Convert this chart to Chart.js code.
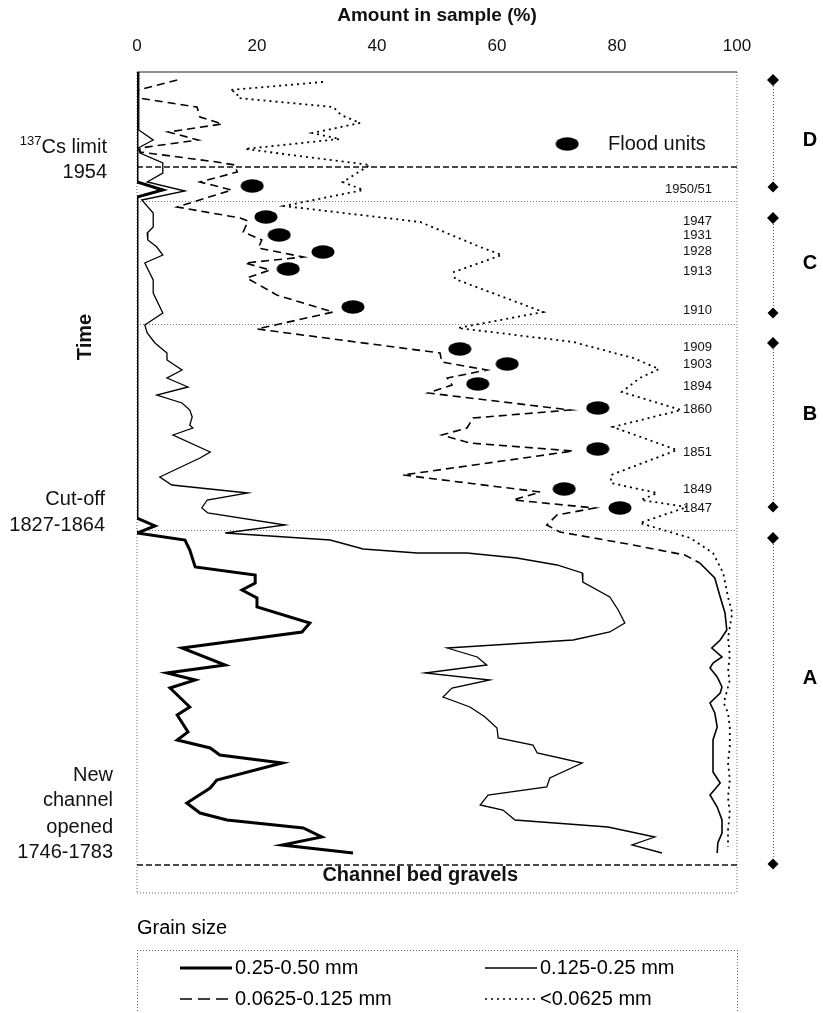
<!DOCTYPE html>
<html>
<head>
<meta charset="utf-8">
<script src="https://cdn.jsdelivr.net/npm/chart.js@4.4.1/dist/chart.umd.min.js"></script>
<style>
  html, body { margin: 0; padding: 0; background: #fff; }
  #wrap { width: 823px; height: 1013px; position: relative; }
</style>
</head>
<body>
<div id="wrap"><canvas id="ctx-grain"></canvas></div>
<script>
// cumulative amount in sample (%) against depth down the core (0 = top of core)
const coarsePct = [0, 0, 4.3, 0, 0, 3.0, 0, 8.0, 8.8, 9.7, 19.7, 19.7, 17.5, 20.0, 20.0, 28.8, 27.5, 7.5, 14.7, 5.0,
  9.7, 5.5, 8.8, 6.7, 8.5, 6.7, 12.2, 13.8, 24.2, 13.3, 12.2, 8.3, 10.5, 15.0, 27.7, 30.8, 24.2, 36.0];
const coarseDepth = [0, 27.5, 29.5, 31.25, 111.5, 113.5, 115.25, 117, 119.5, 123.75, 125.75, 127.75, 129.5, 131.5, 133.75, 137.75, 140, 144, 148.25, 150.25,
  152, 154, 158.75, 160.75, 165, 167, 169, 170.75, 172.75, 177, 179, 182.75, 185.25, 187, 189, 191.25, 193.25, 195.25];

const mediumPct = [0.3, 0.3, 2.7, 0.2, 0.5, 4.3, 4.3, 1.7, 8.0, 0.8, 2.7, 2.7, 1.7, 1.8, 3.3, 4.3, 1.3, 2.7, 2.7, 4.3,
  1.3, 1.7, 3.0, 5.0, 5.0, 7.5, 5.0, 8.5, 3.3, 7.5, 8.8, 9.2, 8.8, 9.3, 6.0, 12.2, 10.5, 3.8, 5.8, 18.5,
  11.7, 10.8, 11.8, 24.7, 14.7, 32.2, 37.7, 46.7, 55.0, 63.3, 70.0, 74.2, 74.3, 78.8, 80.2, 81.3, 78.8, 72.7, 51.7, 56.7,
  58.3, 48.0, 58.8, 52.5, 51.0, 55.5, 58.0, 60.0, 60.2, 66.0, 66.7, 74.2, 68.8, 68.3, 58.5, 57.2, 61.0, 63.0, 78.5, 86.3,
  82.5, 87.5];
const mediumDepth = [0, 14.5, 17, 19, 20.25, 22.75, 25.25, 27.5, 29.75, 32, 35.25, 38.75, 40.25, 42, 43.75, 45.75, 47.75, 52, 55.25, 60.25,
  63.25, 65.25, 67.75, 70.25, 72, 74.5, 76.5, 78.75, 80.75, 82.75, 84.5, 86.25, 88.25, 89, 90.75, 95, 96.5, 101.25, 103.25, 105.25,
  107, 109, 110.25, 113.25, 115.25, 117, 119.25, 120.25, 120.25, 121.5, 123.25, 125.25, 127.5, 131.25, 134.5, 137.75, 140, 142, 144, 146.25,
  148.25, 150.25, 152, 154, 156.25, 158.75, 161.25, 164, 166.5, 168.25, 170.25, 172.75, 176.5, 178.75, 180.75, 183.25, 184.5, 187, 188.75, 191.25,
  193.25, 195.25];

const finePct = [6.7, 0.2, 0.2, 10.0, 10.5, 14.2, 5.2, 10.2, 0.5, 0.5, 13.3, 16.3, 16.7, 10.5, 15.8, 6.7, 17.2, 18.5, 17.7, 20.8,
  20.2, 27.7, 18.0, 22.2, 18.3, 23.3, 32.7, 20.0, 50.5, 50.8, 58.3, 51.7, 52.5, 48.5, 72.2, 56.0, 55.0, 50.8, 55.5, 72.7,
  44.3, 67.2, 62.7, 76.3, 70.0, 68.3, 70.5, 82.7, 91.3, 93.8, 96.3, 97.2, 98.0, 98.3, 97.2, 95.8, 97.5, 96.0, 95.5, 96.7,
  97.5, 97.2, 95.5, 96.3, 96.7, 96.0, 96.0, 96.0, 97.2, 95.5, 96.7, 97.5, 97.5, 96.8, 96.7];
const fineDepth = [2, 4.5, 6.5, 8.75, 11.25, 13, 15, 17, 19, 20, 22.5, 23.25, 25, 27.5, 29.5, 33.75, 36.5, 37.25, 40, 42,
  44, 46.25, 47.75, 49.5, 51.5, 55.75, 60, 64.25, 70.25, 72.5, 74.5, 76.5, 78.25, 80.25, 84.5, 86.5, 89, 90.75, 92.75, 94.75,
  100.75, 105, 107, 109, 110.75, 113.25, 115, 118.25, 120.75, 122.75, 126.5, 131.25, 135.25, 139.5, 142, 144, 146.25, 147.75, 149, 151.25,
  153.75, 155.25, 157.75, 160.25, 163.75, 167, 172, 175, 177.75, 180.75, 183.75, 187, 190.25, 192.75, 195.25];

const siltPct = [31.0, 15.5, 16.7, 16.8, 32.7, 34.0, 37.2, 29.2, 33.8, 18.0, 38.8, 34.3, 37.7, 24.5, 47.2, 57.2, 60.8, 52.8, 53.0, 67.7,
  53.5, 72.7, 82.7, 87.0, 83.8, 80.8, 90.7, 79.3, 90.0, 79.0, 79.0, 86.7, 84.0, 91.7, 83.8, 92.2, 96.0, 97.7, 98.5, 99.2,
  98.5, 98.8, 98.5, 98.8, 97.8, 98.5, 98.8, 98.8, 98.5, 98.8, 98.5, 98.8, 98.5, 98.5];
const siltDepth = [2.5, 4.5, 5.25, 6.5, 8.75, 10.75, 12.75, 15.25, 16.75, 19.25, 23.25, 27.5, 29.5, 33.5, 37.5, 43.75, 45.75, 50, 51.75, 60,
  64, 67.5, 71.5, 74.25, 76.5, 80, 84.5, 88.75, 94.5, 100.75, 102.75, 105.25, 107, 108.75, 112.75, 116.5, 120.25, 125.25, 131.25, 135.25,
  141.5, 145.75, 150, 152, 157.75, 160.25, 163.75, 168.75, 172.5, 177, 181.25, 185.25, 189.5, 193.75];

const floodYears = ['1950/51', '1947', '1931', '1928', '1913', '1910', '1909', '1903', '1894', '1860', '1851', '1849', '1847'];
const floodPct = [19.2, 21.5, 23.7, 31.0, 25.2, 36.0, 53.8, 61.7, 56.8, 76.8, 76.8, 71.2, 80.5];
const floodDepth = [28.5, 36.25, 40.75, 45, 49.25, 58.75, 69.25, 73, 78, 84, 94.25, 104.25, 109];
const floodLabelDepth = [29.25, 37.25, 40.75, 44.75, 49.75, 59.5, 68.75, 73, 78.5, 84.25, 95, 104.25, 109];

const zoneNames = ['D', 'C', 'B', 'A'];
const zoneTop = [2, 36.5, 67.75, 116.5];
const zoneBottom = [28.75, 60.25, 108.75, 198];
const zoneLabelDepth = [17, 47.75, 85.5, 151.5];

const csLimitDepth = 23.75;
const unitBreaks = [32.25, 63, 114.5];
const gravelDepth = 198.25;

const grainLabels = ['0.25-0.50 mm', '0.125-0.25 mm', '0.0625-0.125 mm', '<0.0625 mm'];

const FONT = '"Liberation Sans", Arial, Helvetica, sans-serif';

const toXY = (xs, ys) => xs.map((v, i) => ({ x: v, y: ys[i] }));

// black ellipse used as the flood unit marker
const blob = document.createElement('canvas');
blob.width = 24;
blob.height = 14;
(() => {
  const b = blob.getContext('2d');
  b.fillStyle = '#000';
  b.beginPath();
  b.ellipse(12, 7, 11.5, 6.8, 0, 0, Math.PI * 2);
  b.fill();
})();

function seg(ctx, x1, y1, x2, y2) {
  ctx.beginPath();
  ctx.moveTo(x1, y1);
  ctx.lineTo(x2, y2);
  ctx.stroke();
}

function diamond(ctx, x, y, r) {
  ctx.beginPath();
  ctx.moveTo(x, y - r);
  ctx.lineTo(x + r, y);
  ctx.lineTo(x, y + r);
  ctx.lineTo(x - r, y);
  ctx.closePath();
  ctx.fill();
}

const decor = {
  id: 'decor',
  beforeDatasetsDraw(chart) {
    const { ctx, chartArea: a } = chart;
    const ys = chart.scales.y;
    ctx.save();
    // frame
    ctx.strokeStyle = '#222';
    ctx.lineWidth = 1.2;
    seg(ctx, a.left, a.top, a.right, a.top);
    ctx.setLineDash([1, 2]);
    ctx.strokeStyle = '#666';
    ctx.lineWidth = 1;
    seg(ctx, a.left, a.top, a.left, a.bottom + 1);
    seg(ctx, a.right, a.top, a.right, a.bottom + 1);
    seg(ctx, a.left, a.bottom + 1, a.right, a.bottom + 1);
    // unit boundaries
    ctx.strokeStyle = '#777';
    unitBreaks.forEach(d => {
      const y = Math.round(ys.getPixelForValue(d)) + 0.5;
      seg(ctx, a.left, y, a.right, y);
    });
    ctx.setLineDash([6, 3]);
    ctx.strokeStyle = '#111';
    ctx.lineWidth = 1.5;
    [csLimitDepth, gravelDepth].forEach(d => {
      const y = ys.getPixelForValue(d);
      seg(ctx, a.left, y, a.right, y);
    });
    ctx.restore();
  },
  afterDatasetsDraw(chart) {
    const { ctx, chartArea: a } = chart;
    const xs = chart.scales.x, ys = chart.scales.y;
    const Y = d => ys.getPixelForValue(d);
    ctx.save();
    ctx.fillStyle = '#111';
    ctx.textBaseline = 'middle';

    // flood unit years
    ctx.font = '13px ' + FONT;
    ctx.textAlign = 'right';
    floodYears.forEach((t, i) => ctx.fillText(t, a.right - 25, Y(floodLabelDepth[i])));

    // flood units key
    ctx.drawImage(blob, xs.getPixelForValue(71.7) - 12, Y(18) - 7);
    ctx.font = '20px ' + FONT;
    ctx.textAlign = 'left';
    ctx.fillText('Flood units', xs.getPixelForValue(78.5), Y(18));

    // gravels
    ctx.font = 'bold 20px ' + FONT;
    ctx.textAlign = 'center';
    ctx.fillText('Channel bed gravels', xs.getPixelForValue(47.2), Y(200.75));

    // left annotations
    ctx.font = '20px ' + FONT;
    ctx.textAlign = 'right';
    const csX = 107;
    ctx.fillText('Cs limit', csX, Y(18.75));
    const w = ctx.measureText('Cs limit').width;
    ctx.font = '13px ' + FONT;
    ctx.fillText('137', csX - w, Y(18.75) - 6);
    ctx.font = '20px ' + FONT;
    ctx.fillText('1954', csX, Y(25));
    ctx.fillText('Cut-off', 105, Y(106.75));
    ctx.fillText('1827-1864', 105, Y(113.25));
    ctx.fillText('New', 113, Y(175.75));
    ctx.fillText('channel', 113, Y(182));
    ctx.fillText('opened', 113, Y(188.75));
    ctx.fillText('1746-1783', 113, Y(195));

    ctx.save();
    ctx.translate(85, Y(66.25));
    ctx.rotate(-Math.PI / 2);
    ctx.font = 'bold 20px ' + FONT;
    ctx.textAlign = 'center';
    ctx.fillText('Time', 0, 0);
    ctx.restore();

    // zone brackets on the right
    const bx = 773;
    zoneNames.forEach((z, i) => {
      const y1 = Y(zoneTop[i]), y2 = Y(zoneBottom[i]);
      ctx.save();
      ctx.setLineDash([1, 2]);
      ctx.strokeStyle = '#555';
      ctx.lineWidth = 1;
      seg(ctx, bx + 0.5, y1, bx + 0.5, y2);
      ctx.restore();
      ctx.fillStyle = '#000';
      diamond(ctx, bx, y1, 6);
      diamond(ctx, bx, y2, 5.5);
      ctx.font = 'bold 20px ' + FONT;
      ctx.textAlign = 'center';
      ctx.fillText(z, 810, Y(zoneLabelDepth[i]));
    });

    // grain size key
    ctx.textAlign = 'left';
    ctx.font = '20px ' + FONT;
    ctx.fillText('Grain size', a.left, 928);
    ctx.save();
    ctx.setLineDash([1, 2]);
    ctx.strokeStyle = '#666';
    ctx.lineWidth = 1;
    seg(ctx, a.left, 950.5, a.right, 950.5);
    seg(ctx, a.left + 0.5, 950, a.left + 0.5, 1013);
    seg(ctx, a.right + 0.5, 950, a.right + 0.5, 1013);
    ctx.restore();
    const keyStyle = [
      { w: 3, dash: [] }, { w: 1.3, dash: [] }, { w: 1.5, dash: [12, 6] }, { w: 1.7, dash: [2, 4] }
    ];
    grainLabels.forEach((t, i) => {
      const col = i % 2, row = Math.floor(i / 2);
      const x0 = col ? 485 : 180;
      const y0 = row ? 999 : 968;
      ctx.save();
      ctx.strokeStyle = '#000';
      ctx.lineWidth = keyStyle[i].w;
      ctx.setLineDash(keyStyle[i].dash);
      seg(ctx, x0, y0, x0 + 52, y0);
      ctx.restore();
      ctx.fillText(t, x0 + 55, y0);
    });
    ctx.restore();
  }
};

new Chart(document.getElementById('ctx-grain'), {
  type: 'line',
  data: {
    datasets: [
      {
        label: 'Flood units',
        data: toXY(floodPct, floodDepth),
        showLine: false,
        pointStyle: blob,
        pointRadius: 7,
        borderColor: '#000',
        backgroundColor: '#000'
      },
      {
        label: grainLabels[0],
        data: toXY(coarsePct, coarseDepth),
        borderColor: '#000',
        borderWidth: 3,
        pointRadius: 0,
        tension: 0
      },
      {
        label: grainLabels[1],
        data: toXY(mediumPct, mediumDepth),
        borderColor: '#000',
        borderWidth: 1.3,
        pointRadius: 0,
        tension: 0
      },
      {
        label: grainLabels[2],
        data: toXY(finePct, fineDepth),
        borderColor: '#000',
        borderWidth: 1.6,
        borderDash: [8, 5],
        pointRadius: 0,
        tension: 0,
        segment: {
          borderDash: c => (c.p0.parsed.y >= 122 ? [] : undefined)
        }
      },
      {
        label: grainLabels[3],
        data: toXY(siltPct, siltDepth),
        borderColor: '#000',
        borderWidth: 1.8,
        borderDash: [2, 4],
        pointRadius: 0,
        tension: 0
      }
    ]
  },
  options: {
    responsive: true,
    maintainAspectRatio: false,
    animation: false,
    events: [],
    layout: { padding: { left: 137, right: 86, top: 0, bottom: 121 } },
    scales: {
      x: {
        type: 'linear',
        position: 'top',
        min: 0,
        max: 100,
        grid: { display: false, drawTicks: false },
        border: { display: false },
        ticks: { stepSize: 20, padding: 15, color: '#111', font: { family: FONT, size: 17 } },
        title: {
          display: true,
          text: 'Amount in sample (%)',
          color: '#111',
          padding: { top: 4, bottom: 0 },
          font: { family: FONT, size: 19, weight: 'bold' }
        },
        afterFit: axis => { axis.height = 72; }
      },
      y: {
        type: 'linear',
        reverse: true,
        min: 0,
        max: 205,
        display: false
      }
    },
    plugins: {
      legend: { display: false },
      tooltip: { enabled: false }
    }
  },
  plugins: [decor]
});
</script>
</body>
</html>
